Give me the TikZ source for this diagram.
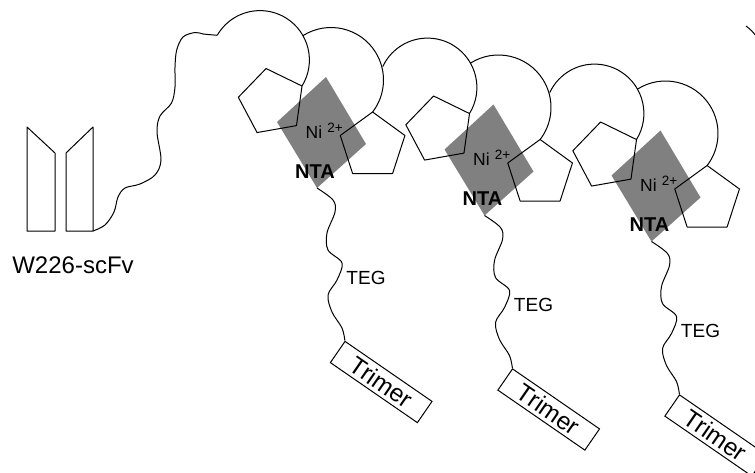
\documentclass[tikz,border=0pt]{standalone}
\usepackage{fontspec}
\setmainfont{Liberation Sans}
\begin{document}
\begin{tikzpicture}[x=1pt,y=-1pt,
  outline/.style={draw=black, line width=1pt, line join=round},
  ntabox/.style={fill=black!50, draw=none},
  lbl/.style={inner sep=0pt},
  trimerbox/.style={draw=black, line width=1pt, rotate=-34.6,
    minimum width=105.7pt, minimum height=25.8pt, inner sep=0pt,
    font=\fontsize{24.5}{26}\selectfont},
  teglabel/.style={lbl, anchor=base, font=\fontsize{19}{21}\selectfont},
  ntalabel/.style={lbl, anchor=base, font=\fontsize{20}{22}\selectfont\bfseries},
  nilabel/.style={lbl, anchor=base west, font=\fontsize{17.5}{19}\selectfont},
]
\useasboundingbox (0,0) rectangle (755,472);
\clip (0,0) rectangle (755,472);

% single-chain antibody fragment
\draw[outline] (27,127) -- (55,153) -- (55,231) -- (27,231) -- cycle;
\draw[outline] (66,153) -- (93,127) -- (93,231) -- (66,231) -- cycle;
\coordinate (fv) at (93,231);
\node[lbl, anchor=base, font=\fontsize{24}{26}\selectfont] (fvlabel) at (73,273) {W226-scFv};

% three Ni-NTA / TEG / trimer units
\foreach \dx/\dy/\ea/\n in {0/0/-150/1, 167.5/27.5/-155/2, 334.5/53.5/-155/3}{
  \begin{scope}[shift={(\dx,\dy)}]
    % NTA plate
    \fill[ntabox] (326,77) -- (366,144) -- (317,188) -- (277,122) -- cycle;
    \coordinate (nta\n) at (317,188);
    % histidine rings
    \draw[outline, shift={(272,102)}] (-100:34) -- (-28:34) -- (44:34) -- (116:34) -- (188:34) -- cycle;
    \draw[outline, shift={(372.6,146)}] (-90:34) -- (-18:34) -- (54:34) -- (126:34) -- (198:34) -- cycle;
    % protein loops
    \draw[outline] (260,60) ++(31.8:49.4) arc[start angle=31.8, end angle=\ea, radius=49.4] coordinate (loopend\n);
    \draw[outline] (331,80) ++(-122.3:52.5) arc[start angle=-122.3, end angle=37.6, radius=52.5];
    % labels
    \node[nilabel] (ni\n) at (305.5,138) {Ni\hspace{0.3em}\raisebox{6pt}{\fontsize{13.5}{15}\selectfont 2+}};
    \node[ntalabel] (ntalbl\n) at (315,178) {NTA};
    % trimer block
    \node[trimerbox] (trimer\n) at (381.2,382) {Trimer};
    % TEG linker
    \draw[outline] plot[smooth, tension=0.55] coordinates {(nta\n) (333,200) (335,212) (327,233) (328,250) (342,263) (337,280) (328,295) (332,312) (342,328) (trimer\n.north west)};
    \node[teglabel] (teg\n) at (366,284) {TEG};
  \end{scope}
}

% flexible linker from the antibody fragment to the first loop
\draw[outline] plot[smooth, tension=0.55] coordinates {(loopend1) (203.3,34) (195,32.5) (183,37) (176.7,50) (175,67) (175,87) (171.5,103) (160,116) (157,132) (161,160) (155,175) (140,184) (125,188) (118,197) (114,212) (105,225) (fv)};

% stray stroke at the right edge
\coordinate (edgeA) at (746,26);
\coordinate (edgeB) at (756,36);
\draw[outline] (edgeA) to[bend left=8] (edgeB);
\end{tikzpicture}
\end{document}
